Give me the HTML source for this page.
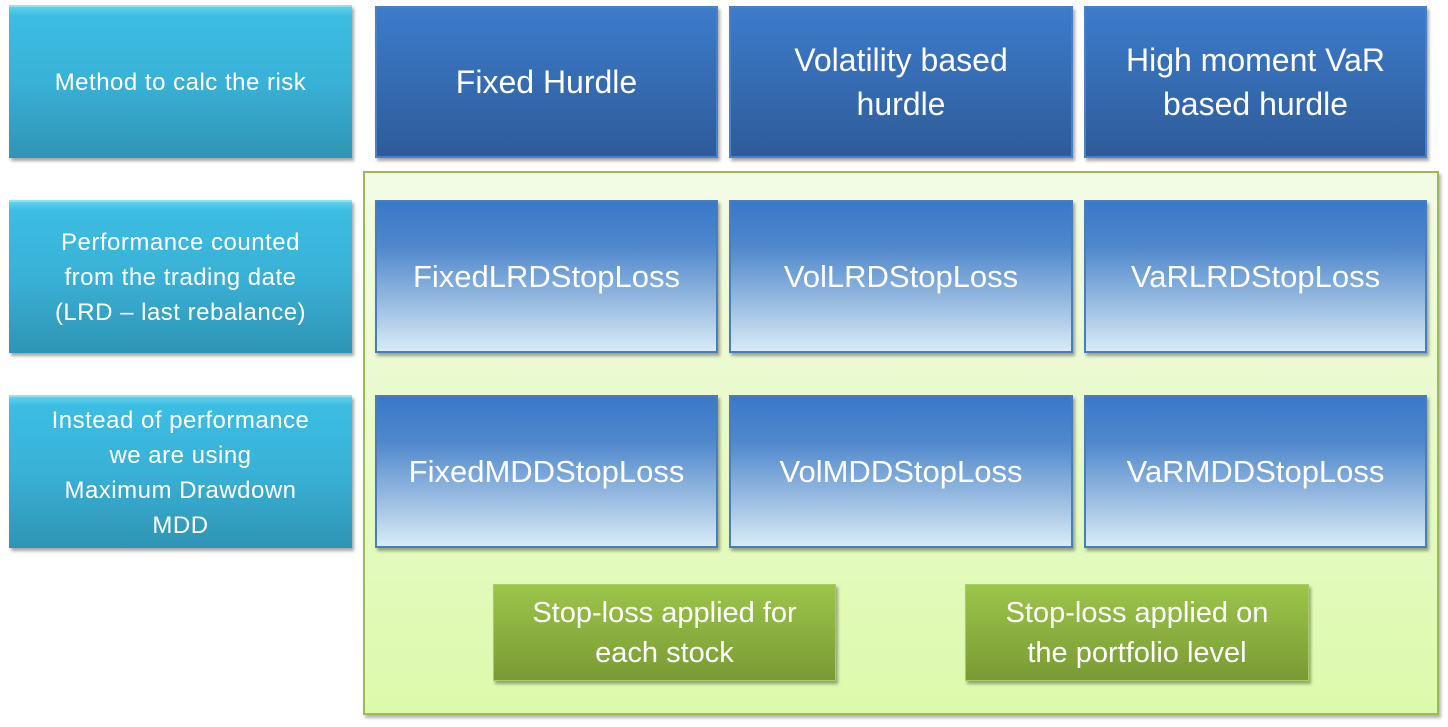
<!DOCTYPE html>
<html><head><style>
body{margin:0;width:1448px;height:727px;background:#fff;position:relative;overflow:hidden;font-family:"Liberation Sans",sans-serif;}
.b{position:absolute;display:flex;align-items:center;justify-content:center;text-align:center;color:#fff;box-sizing:border-box;box-shadow:2px 3px 3px rgba(0,0,0,0.35);}
.c{background:linear-gradient(#5fd0ec 0,#3cbde2 6%,#39b1d6 50%,#2f94b4 100%);font-size:24px;line-height:35px;border-top:2px solid #8de3f5;letter-spacing:0.5px;}
.t{background:linear-gradient(#3c7ccb,#2e5b99);font-size:32px;line-height:44px;border:2px solid #4a80c8;}
.g{background:linear-gradient(#3a78c8 0%,#4f88cc 30%,#9dbfe2 70%,#d8ebf6 100%);font-size:31px;border:2px solid #4a7cc0;}
.s{background:linear-gradient(#9cc54a,#7a9a34);font-size:29px;line-height:40px;border:1px solid #a8cc66;}
</style></head><body>
<div class="b c" style="left:9px;top:5px;width:343px;height:153px">Method to calc the risk</div>
<div class="b c" style="left:9px;top:200px;width:343px;height:153px">Performance counted<br>from the trading date<br>(LRD – last rebalance)</div>
<div class="b c" style="left:9px;top:395px;width:343px;height:153px">Instead of performance<br>we are using<br>Maximum Drawdown<br>MDD</div>
<div class="b t" style="left:375px;top:6px;width:343px;height:152px">Fixed Hurdle</div>
<div class="b t" style="left:729px;top:6px;width:344px;height:152px">Volatility based<br>hurdle</div>
<div class="b t" style="left:1084px;top:6px;width:343px;height:152px">High moment VaR<br>based hurdle</div>
<div style="position:absolute;left:363px;top:171px;width:1076px;height:544px;box-sizing:border-box;border:2px solid #9bbb59;background:linear-gradient(#f3fbe6,#dcfaab);box-shadow:2px 3px 3px rgba(0,0,0,0.3)"></div>
<div class="b g" style="left:375px;top:200px;width:343px;height:153px">FixedLRDStopLoss</div>
<div class="b g" style="left:729px;top:200px;width:344px;height:153px">VolLRDStopLoss</div>
<div class="b g" style="left:1084px;top:200px;width:343px;height:153px">VaRLRDStopLoss</div>
<div class="b g" style="left:375px;top:395px;width:343px;height:153px">FixedMDDStopLoss</div>
<div class="b g" style="left:729px;top:395px;width:344px;height:153px">VolMDDStopLoss</div>
<div class="b g" style="left:1084px;top:395px;width:343px;height:153px">VaRMDDStopLoss</div>
<div class="b s" style="left:493px;top:584px;width:343px;height:97px">Stop-loss applied for<br>each stock</div>
<div class="b s" style="left:965px;top:584px;width:344px;height:97px">Stop-loss applied on<br>the portfolio level</div>
</body></html>
